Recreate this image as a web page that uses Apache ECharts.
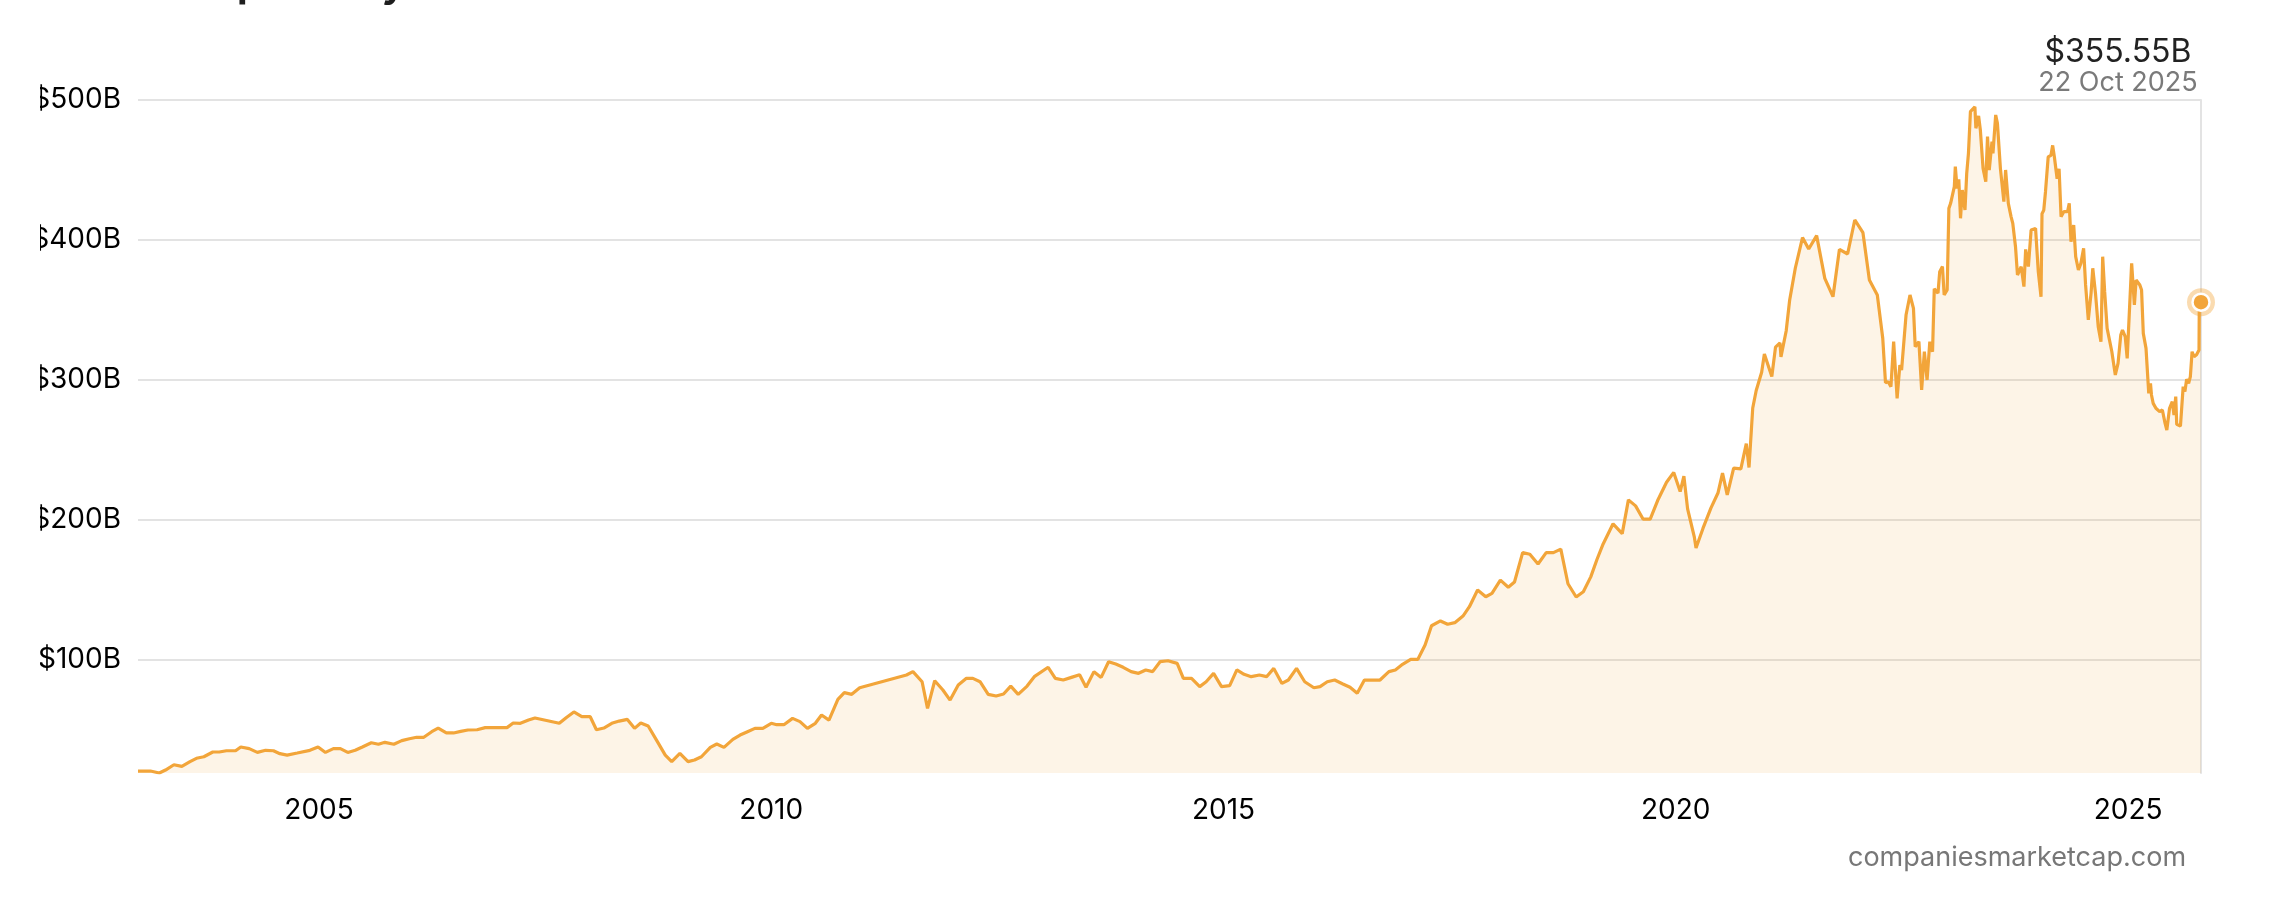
<!DOCTYPE html>
<html>
<head>
<meta charset="utf-8">
<title>LVMH market cap history</title>
<script src="https://cdn.jsdelivr.net/npm/echarts@6/dist/echarts.min.js"></script>
<style>
  html, body { margin: 0; padding: 0; background: #fff; }
  body { width: 2282px; height: 918px; position: relative; overflow: hidden; }
  /* chart starts a bit in from the left so the wide axis labels get cut like on the site */
  #chart { position: absolute; left: 40px; top: 0; width: 2242px; height: 918px; }
</style>
</head>
<body>
<div id="chart"></div>
<script>
  // market cap in billion USD
  var dates = [
    '2003-01-01','2003-02-20','2003-03-28','2003-04-22','2003-05-26','2003-06-27','2003-07-30','2003-08-25','2003-09-24','2003-10-30','2003-11-25','2003-12-24',
    '2004-01-30','2004-02-20','2004-03-25','2004-04-27','2004-05-30','2004-07-01','2004-07-27','2004-08-25','2004-10-05','2004-11-25','2004-12-28',
    '2005-01-27','2005-02-28','2005-03-28','2005-04-27','2005-05-27','2005-06-25','2005-07-31','2005-08-29','2005-09-24','2005-10-30','2005-12-01',
    '2006-01-01','2006-01-30','2006-02-28','2006-04-01','2006-04-27','2006-05-30','2006-06-28','2006-07-27','2006-08-25','2006-10-01','2006-11-03','2006-12-05',
    '2007-01-30','2007-02-24','2007-03-25','2007-04-27','2007-05-23','2007-08-29','2007-09-27','2007-10-27','2007-11-28',
    '2008-01-01','2008-01-26','2008-02-25','2008-03-28','2008-04-27','2008-05-30','2008-06-28','2008-07-23','2008-08-22','2008-09-27','2008-10-30','2008-11-25','2008-12-28',
    '2009-01-30','2009-02-25','2009-03-25','2009-04-30','2009-05-26','2009-06-24','2009-07-30','2009-08-28','2009-09-27','2009-10-27','2009-11-28',
    '2010-01-01','2010-01-23','2010-02-21','2010-03-28','2010-04-27','2010-05-27','2010-06-28','2010-07-23','2010-08-22','2010-09-27','2010-10-23','2010-11-22','2010-12-24',
    '2011-07-01','2011-07-27','2011-09-02','2011-09-24','2011-10-23','2011-11-25','2011-12-24',
    '2012-01-26','2012-02-28','2012-03-25','2012-04-23','2012-05-26','2012-06-27','2012-07-27','2012-08-25','2012-09-24','2012-10-30','2012-11-28',
    '2013-01-23','2013-02-21','2013-03-25','2013-04-27','2013-05-30','2013-06-25','2013-07-27','2013-08-25','2013-09-24','2013-10-23','2013-11-22','2013-12-24',
    '2014-01-23','2014-02-21','2014-03-21','2014-04-20','2014-05-22','2014-06-28','2014-07-23','2014-08-25','2014-09-27','2014-10-23','2014-11-22','2014-12-24',
    '2015-01-26','2015-02-24','2015-03-25','2015-04-23','2015-05-26','2015-06-24','2015-07-23','2015-08-25','2015-09-20','2015-10-23','2015-11-25',
    '2016-01-01','2016-01-26','2016-02-24','2016-03-25','2016-04-27','2016-05-26','2016-06-24','2016-07-23','2016-09-24','2016-10-30','2016-11-25','2016-12-24',
    '2017-01-26','2017-02-24','2017-03-25','2017-04-20','2017-05-26','2017-06-24','2017-07-23','2017-08-25','2017-09-20','2017-10-23','2017-11-25','2017-12-20',
    '2018-01-23','2018-02-24','2018-03-21','2018-04-23','2018-05-22','2018-06-24','2018-07-27','2018-08-25','2018-09-24','2018-10-23','2018-11-25','2018-12-24',
    '2019-01-23','2019-02-17','2019-03-14','2019-04-23','2019-05-30','2019-06-24','2019-07-23','2019-08-22','2019-09-20','2019-10-20','2019-11-25','2019-12-24',
    '2020-01-19','2020-02-03','2020-02-18','2020-03-16','2020-03-23','2020-04-20','2020-05-22','2020-06-20','2020-07-08','2020-07-27','2020-08-22','2020-09-20','2020-10-12','2020-10-23','2020-11-07','2020-11-21','2020-12-13','2020-12-24',
    '2021-01-23','2021-02-07','2021-02-25','2021-03-01','2021-03-22','2021-04-05','2021-04-28','2021-05-27','2021-06-21','2021-07-23','2021-08-25','2021-09-27','2021-10-23','2021-11-25','2021-12-24',
    '2022-01-26','2022-02-21','2022-03-25','2022-04-16','2022-04-27','2022-05-08','2022-05-19','2022-05-30','2022-06-13','2022-06-24','2022-07-01','2022-07-19','2022-08-04','2022-08-18','2022-08-25','2022-09-09','2022-09-20','2022-10-01','2022-10-12','2022-10-23','2022-11-03','2022-11-10','2022-11-25','2022-12-02','2022-12-13','2022-12-20',
    '2023-01-01','2023-01-08','2023-01-15','2023-01-30','2023-02-03','2023-02-10','2023-02-17','2023-02-24','2023-03-03','2023-03-14','2023-03-21','2023-03-28','2023-04-05','2023-04-23','2023-04-27','2023-05-08','2023-05-15','2023-05-26','2023-06-06','2023-06-13','2023-06-20','2023-07-01','2023-07-05','2023-07-16','2023-07-23','2023-08-04','2023-08-11','2023-08-18','2023-08-25','2023-09-05','2023-09-16','2023-09-23','2023-10-04','2023-10-12','2023-10-27','2023-11-07','2023-11-14','2023-11-25','2023-12-06','2023-12-24',
    '2024-01-04','2024-01-15','2024-01-19','2024-01-26','2024-02-02','2024-02-13','2024-02-24','2024-03-02','2024-03-09','2024-03-20','2024-03-28','2024-04-05','2024-04-16','2024-05-01','2024-05-08','2024-05-15','2024-05-26','2024-06-03','2024-06-14','2024-06-24','2024-07-05','2024-07-13','2024-07-24','2024-08-04','2024-08-11','2024-08-22','2024-09-02','2024-09-13','2024-09-20','2024-09-28','2024-10-08','2024-10-16','2024-10-27','2024-11-10','2024-11-21','2024-12-02','2024-12-09','2024-12-20','2024-12-28',
    '2025-01-08','2025-01-15','2025-01-26','2025-02-02','2025-02-17','2025-02-24','2025-03-03','2025-03-14','2025-03-25','2025-04-01','2025-04-05','2025-04-12','2025-04-23','2025-05-01','2025-05-08','2025-05-19','2025-05-30','2025-06-06','2025-06-17','2025-06-28','2025-07-05','2025-07-12','2025-07-16','2025-07-31','2025-08-11','2025-08-18','2025-08-25','2025-09-02','2025-09-09','2025-09-16','2025-09-24','2025-10-04','2025-10-14','2025-10-15','2025-10-22'
  ];
  var capB = [
    20.7,20.7,19.3,21.4,25.2,24.0,27.4,29.8,30.9,34.3,34.3,35.2,
    35.2,37.9,36.7,34.0,35.5,35.2,33.1,32.1,33.6,35.5,37.9,
    34.0,36.7,36.7,34.0,35.5,37.9,40.9,39.8,41.2,39.8,42.4,
    43.8,44.8,44.8,48.8,51.4,47.9,47.9,49.0,50.0,50.2,51.7,51.7,
    51.7,55.0,54.8,57.1,58.6,54.8,59.0,62.9,59.5,
    59.5,50.2,51.4,54.8,56.4,57.6,51.2,55.0,52.9,42.1,32.1,27.4,33.3,
    27.4,28.6,30.9,37.6,40.0,37.6,43.3,46.4,48.8,51.2,51.2,
    54.8,53.8,53.8,58.3,56.0,51.2,54.8,60.7,57.1,71.9,76.7,75.5,80.2,
    89.3,91.7,84.5,65.5,85.2,78.6,71.4,
    82.1,86.9,86.9,84.5,75.5,74.3,75.7,81.4,75.5,81.4,88.1,
    94.8,86.9,85.7,87.6,89.5,80.5,91.7,87.6,98.8,97.1,94.8,91.7,
    90.5,92.9,91.7,98.8,99.5,97.6,86.9,86.9,81.0,84.5,90.5,81.0,
    81.7,92.9,89.8,88.1,89.3,88.1,94.0,83.3,85.7,94.0,84.5,
    80.2,81.0,84.5,85.7,82.9,80.5,76.2,85.7,85.7,91.7,92.9,96.9,
    100.5,100.5,110.7,124.5,127.9,125.5,126.7,131.4,138.1,150.0,145.2,147.6,
    157.1,152.0,155.7,176.7,175.5,168.6,176.7,176.7,179.2,154.5,145.0,148.8,
    159.4,171.8,182.9,197.3,190.3,214.4,210.1,200.7,200.7,213.9,227.0,234.0,
    220.3,231.3,208.0,188.0,180.0,194.0,208.5,219.5,233.5,218.0,237.0,236.5,254.5,237.5,280.0,292.5,305.5,318.5,
    302.5,323.5,326.5,316.5,335.0,357.0,380.0,401.7,393.6,403.1,372.6,359.5,393.3,390.0,414.3,
    405.2,371.4,360.7,329.8,298.1,298.8,295.2,327.4,286.9,310.7,307.1,346.4,360.7,351.2,323.8,327.4,292.9,320.2,300.0,327.4,320.2,365.2,362.0,377.4,381.0,360.7,
    364.3,422.6,426.2,438.1,452.4,436.9,443.3,415.5,435.7,421.4,447.6,461.9,491.7,495.2,479.8,488.6,478.6,451.2,441.7,473.8,450.0,470.2,461.9,489.3,483.3,451.2,450.0,427.4,450.0,426.2,416.7,411.9,395.2,375.0,381.0,366.7,393.3,381.0,407.1,408.3,
    377.4,359.5,418.8,421.2,434.3,459.3,460.4,467.6,459.3,443.8,450.9,416.7,420.2,420.2,426.2,398.8,410.7,388.1,378.6,383.3,394.0,367.9,342.9,361.9,379.8,361.9,338.1,327.4,388.1,363.1,336.9,335.7,320.2,303.6,311.9,332.1,335.7,331.0,315.5,
    357.1,383.3,353.6,371.4,367.9,364.3,333.3,322.6,290.5,297.6,289.3,283.3,279.8,281.0,277.4,278.6,269.0,264.3,279.8,284.5,275.0,288.1,268.3,267.1,295.2,291.7,300.5,297.6,302.4,320.2,316.7,318.0,321.4,352.0,355.55
  ];
  var yTicks = [100, 200, 300, 400, 500];
  var yearTicks = [2005, 2010, 2015, 2020, 2025];
  var lastValueText = '$355.55B';
  var lastDateText = '22 Oct 2025';

  function toTime(s) {
    var p = s.split('-');
    return new Date(+p[0], +p[1] - 1, +p[2]).getTime();
  }

  var seriesData = dates.map(function (d, i) { return [toTime(d), capB[i]]; });
  var lastPoint = seriesData[seriesData.length - 1];
  var yMin = Math.min.apply(null, capB);
  var lineColor = '#f2a53a';
  var gridColor = '#e3e3e3';

  var chart = echarts.init(document.getElementById('chart'));
  chart.setOption({
    animation: false,
    textStyle: { fontFamily: 'Inter' },
    grid: { left: 98, right: 81, top: 100, bottom: 145, outerBoundsMode: 'none' },
    // plain value axis holding timestamps, labels only on the 5-year marks
    xAxis: {
      type: 'value',
      min: seriesData[0][0],
      max: lastPoint[0],
      axisLine: { show: false },
      axisTick: { show: false },
      splitLine: { show: false },
      axisLabel: {
        customValues: yearTicks.map(function (y) { return new Date(y, 0, 1).getTime(); }),
        formatter: function (v) { return String(new Date(v).getFullYear()); },
        color: '#000',
        fontFamily: 'Inter',
        fontSize: 28,
        margin: 24
      }
    },
    yAxis: [{
      type: 'value',
      min: yMin,
      max: 500,
      axisLine: { show: false },
      axisTick: { show: false, customValues: yTicks },
      axisLabel: {
        customValues: yTicks,
        formatter: function (v) { return '$' + v + 'B'; },
        color: '#000',
        fontFamily: 'Inter',
        fontSize: 28,
        margin: 17
      },
      splitLine: { show: true, lineStyle: { color: gridColor, width: 2 } }
    }, {
      // only used for the thin frame line on the right
      type: 'value',
      position: 'right',
      min: yMin,
      max: 500,
      axisLine: { show: true, lineStyle: { color: gridColor, width: 2 } },
      axisTick: { show: false },
      axisLabel: { show: false },
      splitLine: { show: false }
    }],
    series: [{
      type: 'line',
      data: seriesData,
      symbol: 'none',
      lineStyle: { color: lineColor, width: 3.2 },
      areaStyle: { color: lineColor, opacity: 0.12 },
      z: 3
    }, {
      type: 'scatter',
      data: [lastPoint],
      symbolSize: 28,
      clip: false,
      silent: true,
      itemStyle: { color: 'rgba(242,165,58,0.4)', opacity: 1 },
      z: 4
    }, {
      type: 'scatter',
      data: [lastPoint],
      symbolSize: 17,
      clip: false,
      silent: true,
      itemStyle: { color: lineColor, borderColor: '#fff', borderWidth: 2.5, opacity: 1 },
      z: 5
    }],
    graphic: [{
      type: 'text',
      x: 7, y: 5,
      silent: true,
      style: { text: 'Market cap history of LVMH', font: 'bold 39px Inter', fill: '#1e1e1e', verticalAlign: 'bottom' }
    }, {
      type: 'text',
      x: 2078, y: 52,
      silent: true,
      style: { text: lastValueText, font: '32px Inter', fill: '#222', align: 'center', verticalAlign: 'middle' }
    }, {
      type: 'text',
      x: 2078, y: 83,
      silent: true,
      style: { text: lastDateText, font: '27px Inter', fill: '#7a7a7a', align: 'center', verticalAlign: 'middle' }
    }, {
      type: 'text',
      x: 1977, y: 858,
      silent: true,
      style: { text: 'companiesmarketcap.com', font: '27px Inter', fill: '#777', align: 'center', verticalAlign: 'middle' }
    }]
  });
</script>
</body>
</html>
